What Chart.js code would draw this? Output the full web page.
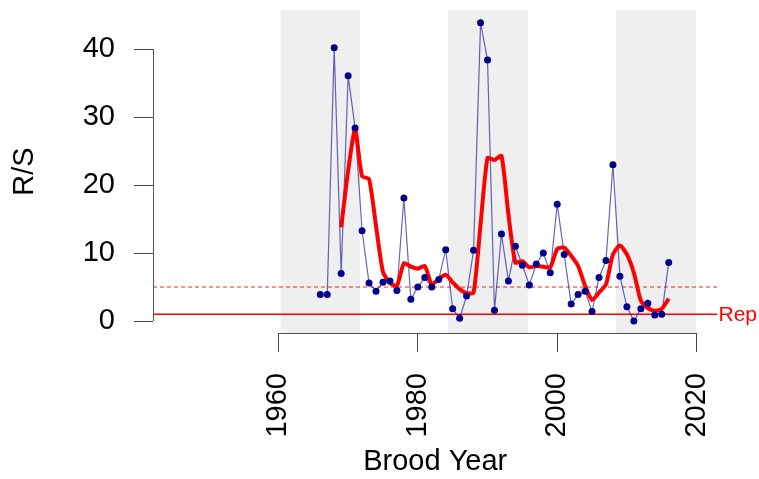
<!DOCTYPE html>
<html>
<head>
<meta charset="utf-8">
<script src="https://cdn.jsdelivr.net/npm/chart.js@4"></script>
<style>
  html, body { margin: 0; padding: 0; background: #fff; }
  #wrap { width: 759px; height: 479px; }
</style>
</head>
<body>
<div id="wrap"><canvas id="rsChart" width="759" height="479"></canvas></div>
<script>
// brood years and recruits per spawner
const YEARS = [1966, 1967, 1968, 1969, 1970, 1971, 1972, 1973, 1974, 1975,
               1976, 1977, 1978, 1979, 1980, 1981, 1982, 1983, 1984, 1985,
               1986, 1987, 1988, 1989, 1990, 1991, 1992, 1993, 1994, 1995,
               1996, 1997, 1998, 1999, 2000, 2001, 2002, 2003, 2004, 2005,
               2006, 2007, 2008, 2009, 2010, 2011, 2012, 2013, 2014, 2015, 2016];
const RS = [3.9, 3.9, 40.2, 7.0, 36.1, 28.4, 13.3, 5.6, 4.4, 5.7,
            5.9, 4.5, 18.1, 3.2, 5.0, 6.4, 5.0, 6.1, 10.5, 1.8,
            0.4, 3.7, 10.4, 43.9, 38.4, 1.6, 12.8, 5.9, 11.0, 8.2,
            5.3, 8.4, 10.0, 7.1, 17.2, 9.8, 2.5, 3.9, 4.4, 1.4,
            6.4, 8.9, 23.0, 6.6, 2.1, 0.0, 1.8, 2.6, 0.9, 1.0, 8.6];
// smoothed R/S (no value for the first three years)
const RS_SMOOTH = [null, null, null, 13.8, 22.1, 28.2, 21.3, 20.9, 14.0, 7.2,
                   5.6, 5.2, 8.5, 8.0, 7.7, 8.1, 5.4, 6.2, 6.8, 5.7,
                   4.7, 4.1, 4.2, 14.2, 24.0, 23.7, 24.3, 15.7, 8.6, 8.8,
                   7.9, 8.1, 8.0, 7.9, 10.6, 10.8, 9.6, 8.1, 5.2, 3.1,
                   4.2, 5.4, 9.8, 11.1, 9.8, 7.1, 3.0, 1.9, 1.5, 1.8, 3.3];
// shaded periods [start, end]
const BANDS = [[1960.3, 1971.7], [1984.3, 1995.8], [2008.4, 2019.9]];
const REPLACEMENT = 1;
const DASHED_LEVEL = 5;
const X_TICKS = [1960, 1980, 2000, 2020];
const Y_TICKS = [0, 10, 20, 30, 40];
const X_MIN = 1942, X_MAX = 2023;
const Y_MIN = -1.76, Y_MAX = 45.76;

const FONT = "'Liberation Sans', Arial, sans-serif";

const rsPoints = YEARS.map((y, i) => ({ x: y, y: RS[i] }));
const smoothPoints = YEARS.map((y, i) => ({ x: y, y: RS_SMOOTH[i] }));

// grey bands + short axis lines like base R
const backdropPlugin = {
    id: 'backdrop',
    beforeDatasetsDraw(chart) {
        const { ctx, chartArea, scales } = chart;
        ctx.save();
        ctx.fillStyle = '#efefef';
        BANDS.forEach(b => {
            const x0 = scales.x.getPixelForValue(b[0]);
            const x1 = scales.x.getPixelForValue(b[1]);
            ctx.fillRect(x0, chartArea.top, x1 - x0, chartArea.bottom - chartArea.top);
        });
        ctx.restore();
    },
    afterDraw(chart) {
        const { ctx, chartArea, scales } = chart;
        ctx.save();
        ctx.strokeStyle = '#555';
        ctx.lineWidth = 1;
        ctx.beginPath();
        // y axis from first to last tick
        ctx.moveTo(chartArea.left + 0.5, scales.y.getPixelForValue(Y_TICKS[0]));
        ctx.lineTo(chartArea.left + 0.5, scales.y.getPixelForValue(Y_TICKS[Y_TICKS.length - 1]));
        // x axis
        ctx.moveTo(scales.x.getPixelForValue(X_TICKS[0]), chartArea.bottom + 0.5);
        ctx.lineTo(scales.x.getPixelForValue(X_TICKS[X_TICKS.length - 1]), chartArea.bottom + 0.5);
        ctx.stroke();

        // "Rep" label at the end of the replacement line
        ctx.fillStyle = '#ff0000';
        ctx.font = '21px ' + FONT;
        ctx.textAlign = 'left';
        ctx.textBaseline = 'middle';
        ctx.fillText('Rep', chartArea.right + 1, scales.y.getPixelForValue(REPLACEMENT) + 1);
        ctx.restore();
    }
};

const ctx = document.getElementById('rsChart').getContext('2d');
new Chart(ctx, {
    type: 'line',
    data: {
        datasets: [
            {
                label: 'R/S points',
                data: rsPoints,
                showLine: false,
                pointRadius: 3.5,
                pointBackgroundColor: '#00008b',
                pointBorderWidth: 0,
                order: 1
            },
            {
                label: 'Smoothed',
                data: smoothPoints,
                borderColor: '#ff0000',
                borderWidth: 4,
                pointRadius: 0,
                tension: 0.2,
                spanGaps: false,
                order: 2
            },
            {
                label: 'R/S line',
                data: rsPoints,
                borderColor: 'rgba(20, 20, 150, 0.65)',
                borderWidth: 1.2,
                pointRadius: 0,
                order: 3
            },
            {
                label: 'Dashed level',
                data: [{ x: X_MIN, y: DASHED_LEVEL }, { x: X_MAX, y: DASHED_LEVEL }],
                borderColor: 'rgba(255, 0, 0, 0.85)',
                borderWidth: 1,
                borderDash: [4, 3],
                pointRadius: 0,
                order: 4
            },
            {
                label: 'Replacement',
                data: [{ x: X_MIN, y: REPLACEMENT }, { x: X_MAX, y: REPLACEMENT }],
                borderColor: '#ff0000',
                borderWidth: 1.3,
                pointRadius: 0,
                order: 5
            }
        ]
    },
    options: {
        responsive: false,
        animation: false,
        layout: {
            padding: { top: 10, right: 41.5, left: 0, bottom: 0 }
        },
        plugins: {
            legend: { display: false },
            tooltip: { enabled: false }
        },
        scales: {
            x: {
                type: 'linear',
                min: X_MIN,
                max: X_MAX,
                afterBuildTicks: scale => { scale.ticks = X_TICKS.map(v => ({ value: v })); },
                afterFit: scale => {
                    scale.height = 146;
                    scale.paddingLeft = 0;
                    scale.paddingRight = 0;
                },
                border: { display: false },
                grid: {
                    drawOnChartArea: false,
                    tickLength: 19,
                    color: '#444'
                },
                ticks: {
                    color: '#000',
                    font: { family: FONT, size: 29 },
                    minRotation: 90,
                    maxRotation: 90,
                    padding: 21,
                    callback: v => String(v)
                },
                title: {
                    display: true,
                    text: 'Brood Year',
                    color: '#000',
                    font: { family: FONT, size: 29 },
                    padding: { top: 0, bottom: 0 }
                }
            },
            y: {
                min: Y_MIN,
                max: Y_MAX,
                afterBuildTicks: scale => { scale.ticks = Y_TICKS.map(v => ({ value: v })); },
                afterFit: scale => {
                    scale.width = 153;
                    scale.paddingTop = 0;
                    scale.paddingBottom = 0;
                },
                border: { display: false },
                grid: {
                    drawOnChartArea: false,
                    tickLength: 19,
                    color: '#444'
                },
                ticks: {
                    color: '#000',
                    font: { family: FONT, size: 29 },
                    padding: 19,
                    callback: v => String(v)
                },
                title: {
                    display: true,
                    text: 'R/S',
                    color: '#000',
                    font: { family: FONT, size: 29 },
                    padding: { top: 8, bottom: 0 }
                }
            }
        }
    },
    plugins: [backdropPlugin]
});
</script>
</body>
</html>
